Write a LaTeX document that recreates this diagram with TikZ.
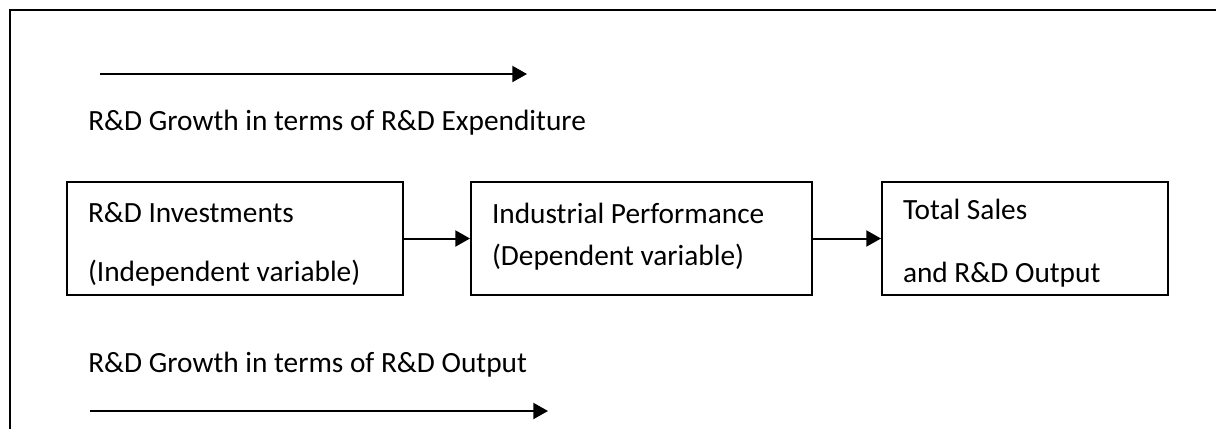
\documentclass[tikz,border=0pt]{standalone}
\usepackage{fontspec}
\setmainfont{Carlito}
\usepackage{tikz}
\usetikzlibrary{arrows.meta, positioning}

\begin{document}
\begin{tikzpicture}[
    x=0.75pt, y=-0.75pt,
    block/.style={rectangle, draw, line width=1.5pt, minimum height=84.75pt, align=flush left, inner xsep=15.75pt, text width=#1, font=\fontsize{22}{26}\selectfont},
    flow/.style={-{Triangle[length=11pt, width=12pt]}, line width=1.5pt},
    caption/.style={anchor=base west, inner sep=0pt, font=\fontsize{22}{26}\selectfont}
]
\useasboundingbox (0,0) rectangle (1216,429);

% frame
\draw[line width=1.5pt] (1216,9.5) -- (9.5,9.5) -- (9.5,429);

% R&D Investments
\node[block=220.5pt] (invest) at (235,238.5) {
    \rule{0pt}{24pt}R\&D Investments\\[18pt]
    (Independent variable)
};

% Industrial Performance
\node[block=224.25pt] (perf) at (641.5,238.5) {
    Industrial Performance\\[5.5pt]
    (Dependent variable)\rule[-7pt]{0pt}{0pt}
};

% Total Sales
\node[block=183pt] (sales) at (1025,238.5) {
    \rule{0pt}{22pt}Total Sales\\[21pt]
    and R\&D Output
};

% growth labels
\node[caption] (explabel) at (88,130) {R\&D Growth in terms of R\&D Expenditure};
\node[caption] (outlabel) at (88,372) {R\&D Growth in terms of R\&D Output};

\coordinate (expstart) at (100,74);
\coordinate (expend) at (527,74);
\coordinate (outstart) at (90,411);
\coordinate (outend) at (548,411);

% arrows
\draw[flow] (expstart) -- (expend);
\draw[flow] (outstart) -- (outend);
\draw[flow] (invest) -- (perf);
\draw[flow] (perf) -- (sales);

\end{tikzpicture}
\end{document}
